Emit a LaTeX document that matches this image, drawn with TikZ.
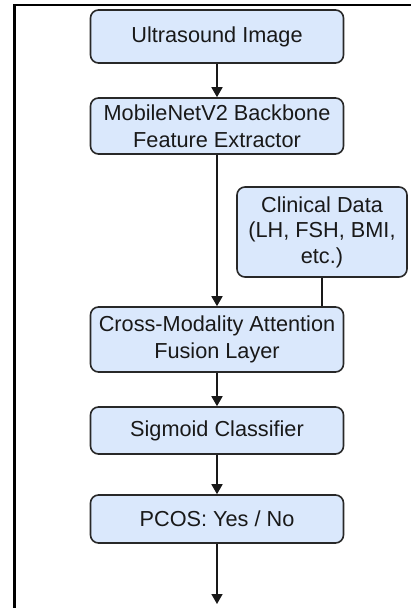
\documentclass[tikz,border=0pt]{standalone}
\usepackage{fontspec}
\setmainfont{Liberation Sans}
\usetikzlibrary{arrows.meta}
\definecolor{boxfill}{RGB}{218,232,252}
\definecolor{boxline}{RGB}{40,40,40}
\tikzset{
  stage/.style={draw=boxline, fill=boxfill, line width=1.6pt, rounded corners=8pt,
    minimum width=253pt, align=center, inner sep=0pt,
    font=\fontsize{21.7}{26.5}\selectfont, text=black!90},
  link/.style={line width=1.6pt, draw=black!90},
  flow/.style={link, -{Triangle[width=11pt,length=10pt]}},
}
\begin{document}
\begin{tikzpicture}[x=1pt, y=-1pt]
  \useasboundingbox (0,0) rectangle (410,608);
  \fill[white] (0,0) rectangle (410,608);
  % partial outer frame
  \draw[line width=2.6pt, black] (14.7,620) -- (14.7,5) -- (420,5);

  \node[stage, minimum height=53pt] (u) at (217,36.5) {Ultrasound Image};
  \node[stage, minimum height=56pt] (m) at (217,126) {MobileNetV2 Backbone\\Feature Extractor};
  \node[stage, minimum width=170pt, minimum height=90pt,
        font=\fontsize{21.7}{25.5}\selectfont] (c) at (322,232) {Clinical Data\\(LH, FSH, BMI,\\etc.)};
  \node[stage, minimum height=65pt] (f) at (217,339.5) {Cross-Modality Attention\\Fusion Layer};
  \node[stage, minimum height=47pt] (s) at (217,430.5) {Sigmoid Classifier};
  \node[stage, minimum height=48pt] (p) at (217,519) {PCOS: Yes / No};
  \coordinate (out) at (217,604);

  \draw[flow] (u) -- (m);
  \draw[flow] (m) -- (f);
  \draw[link] (c.south) -- (c.south |- f.north);
  \draw[flow] (f) -- (s);
  \draw[flow] (s) -- (p);
  \draw[flow] (p) -- (out);
\end{tikzpicture}
\end{document}
